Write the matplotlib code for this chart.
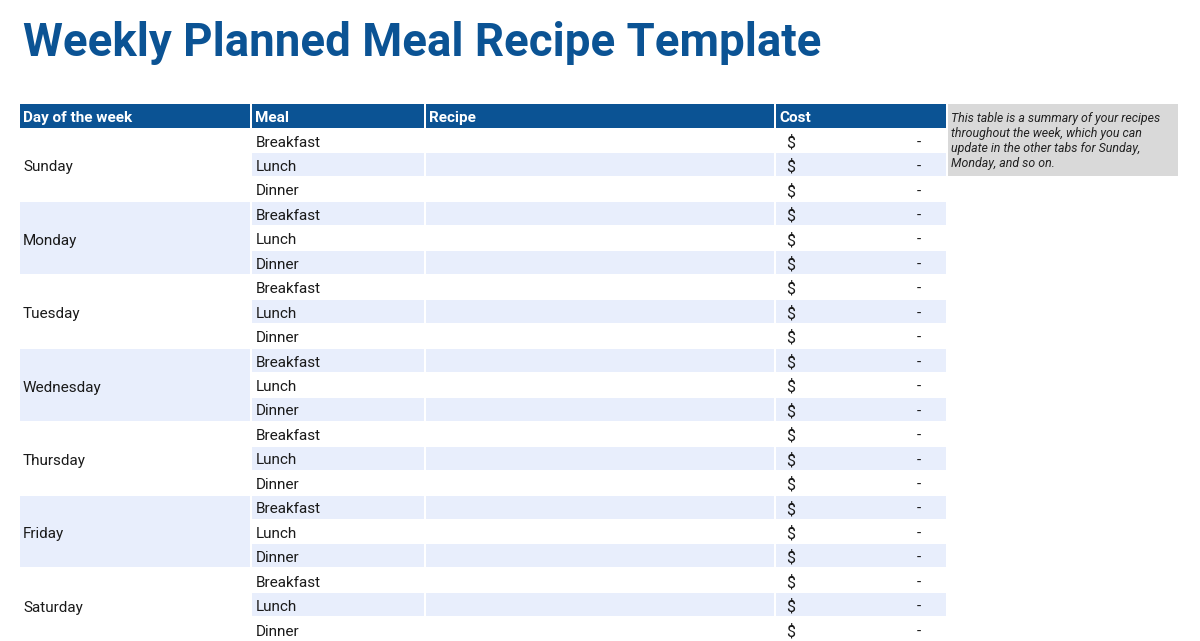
import matplotlib
matplotlib.use("Agg")
import matplotlib.pyplot as plt
from matplotlib.patches import Rectangle

title = "Weekly Planned Meal Recipe Template"
headers = ["Day of the week", "Meal", "Recipe", "Cost"]
days = ["Sunday", "Monday", "Tuesday", "Wednesday", "Thursday", "Friday", "Saturday"]
meals = ["Breakfast", "Lunch", "Dinner"]
recipes = [""] * 21
costs = ["-"] * 21
note_lines = ["This table is a summary of your recipes",
              "throughout the week, which you can",
              "update in the other tabs for Sunday,",
              "Monday, and so on."]

W, H = 1200, 641
fig = plt.figure(figsize=(W / 100, H / 100), dpi=100)
ax = fig.add_axes([0, 0, 1, 1])
ax.set_xlim(0, W)
ax.set_ylim(H, 0)
ax.axis("off")

BLUE = "#0B5394"
LIGHT = "#E8EEFC"
FONT = "Roboto"
TXT = "#1a1a1a"

cols = [(20, 250), (252, 424), (426, 774), (776, 946)]
header_top, header_bot = 104, 128
row_top0 = 128.8
rh = 24.45

ax.text(23, 56, title, fontsize=32.9, fontweight="bold", color=BLUE,
        family=FONT, ha="left", va="baseline")

for (x0, x1), h in zip(cols, headers):
    ax.add_patch(Rectangle((x0, header_top), x1 - x0, header_bot - header_top,
                           facecolor=BLUE, edgecolor="none"))
    ax.text(x0 + 3, (header_top + header_bot) / 2 + 2, h, fontsize=11,
            fontweight="bold", color="white", family=FONT, ha="left", va="center")

for d, day in enumerate(days):
    top = row_top0 + d * 3 * rh
    if d % 2 == 1:
        ax.add_patch(Rectangle((cols[0][0], top), cols[0][1] - cols[0][0], 3 * rh - 1.5,
                               facecolor=LIGHT, edgecolor="none"))
    ax.text(cols[0][0] + 3, top + 1.5 * rh + 2, day, fontsize=11, color=TXT,
            family=FONT, ha="left", va="center")
    for m, meal in enumerate(meals):
        i = d * 3 + m
        rt = row_top0 + i * rh
        cy = rt + rh / 2 + 1.5
        if i % 2 == 1:
            for (x0, x1) in cols[1:]:
                ax.add_patch(Rectangle((x0, rt), x1 - x0, rh - 1.5,
                                       facecolor=LIGHT, edgecolor="none"))
        ax.text(cols[1][0] + 4, cy, meal, fontsize=11, color=TXT,
                family=FONT, ha="left", va="center")
        ax.text(cols[2][0] + 4, cy, recipes[i], fontsize=11, color=TXT,
                family=FONT, ha="left", va="center")
        ax.text(786, cy, "$", fontsize=11.5, color=TXT,
                family=FONT, ha="left", va="center")
        ax.text(921, cy, costs[i], fontsize=11, color=TXT,
                family=FONT, ha="right", va="center")

ax.add_patch(Rectangle((948, 104), 230, 72, facecolor="#D9D9D9", edgecolor="none"))
for k, line in enumerate(note_lines):
    ax.text(951, 118.5 + 15 * k, line, fontsize=8.9, style="italic", color="#222222",
            family=FONT, ha="left", va="center")

fig.savefig("out.png", dpi=100)
